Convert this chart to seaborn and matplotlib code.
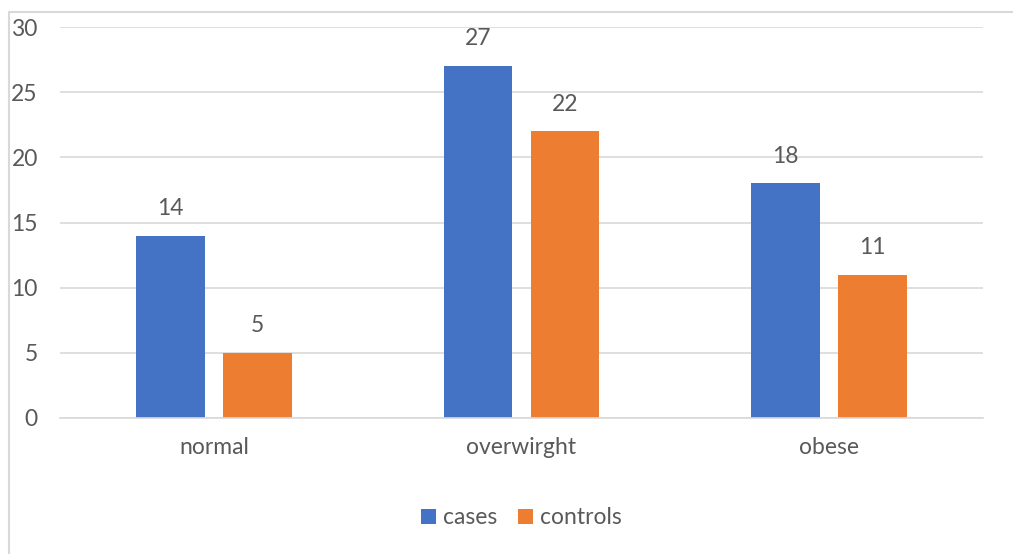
import matplotlib
matplotlib.use("Agg")
import matplotlib.pyplot as plt
import seaborn as sns
import pandas as pd
from matplotlib.lines import Line2D
from matplotlib.patches import Patch

categories = ["normal", "overwirght", "obese"]
series = ["cases", "controls"]
cases = [14, 27, 18]
controls = [5, 22, 11]
yticks = [0, 5, 10, 15, 20, 25, 30]

colors = {"cases": "#4472C4", "controls": "#ED7D31"}
text_color = "#595959"
grid_color = "#D9D9D9"

df = pd.DataFrame({
    "category": categories * 2,
    "series": ["cases"] * 3 + ["controls"] * 3,
    "value": cases + controls,
})

sns.set_theme(style="white")
plt.rcParams["font.family"] = ["Lato", "DejaVu Sans"]

W, H = 1013, 554
fs = 16.5
fig = plt.figure(figsize=(W / 100, H / 100), dpi=100)
ax = fig.add_axes([60 / W, (H - 418) / H, (983 - 60) / W, (418 - 27) / H])

sns.barplot(data=df, x="category", y="value", hue="series", order=categories,
            hue_order=series, palette=colors, width=0.5656, gap=0.208,
            ax=ax, legend=False, saturation=1, linewidth=0)

ax.set_ylim(0, 30)
ax.set_yticks(yticks)
ax.set_xlim(-0.5, 2.5)
ax.yaxis.grid(True, color=grid_color, linewidth=1.2)
ax.set_axisbelow(True)
for s in ["top", "right", "left"]:
    ax.spines[s].set_visible(False)
ax.spines["bottom"].set_color(grid_color)
ax.spines["bottom"].set_linewidth(1.2)
ax.tick_params(axis="both", length=0, labelsize=fs, colors=text_color)
ax.tick_params(axis="y", pad=16)
ax.tick_params(axis="x", pad=14)
ax.set_xlabel("")
ax.set_ylabel("")

for cont in ax.containers:
    ax.bar_label(cont, padding=12, fontsize=fs, color=text_color)

handles = [Patch(facecolor=colors[s], edgecolor="none", label=s) for s in series]
fig.legend(handles=handles, loc="center", bbox_to_anchor=(521.5 / W, (H - 518) / H),
           ncol=2, frameon=False, fontsize=fs, labelcolor=text_color,
           handlelength=0.65, handleheight=0.65, handletextpad=0.3, columnspacing=0.9)

fig.add_artist(Line2D([9 / W, 9 / W], [0, (H - 12) / H], color=grid_color, linewidth=1.5,
                      transform=fig.transFigure))
fig.add_artist(Line2D([9 / W, 1], [(H - 12) / H, (H - 12) / H], color=grid_color,
                      linewidth=1.5, transform=fig.transFigure))

fig.savefig("out.png", dpi=100, facecolor="white")
